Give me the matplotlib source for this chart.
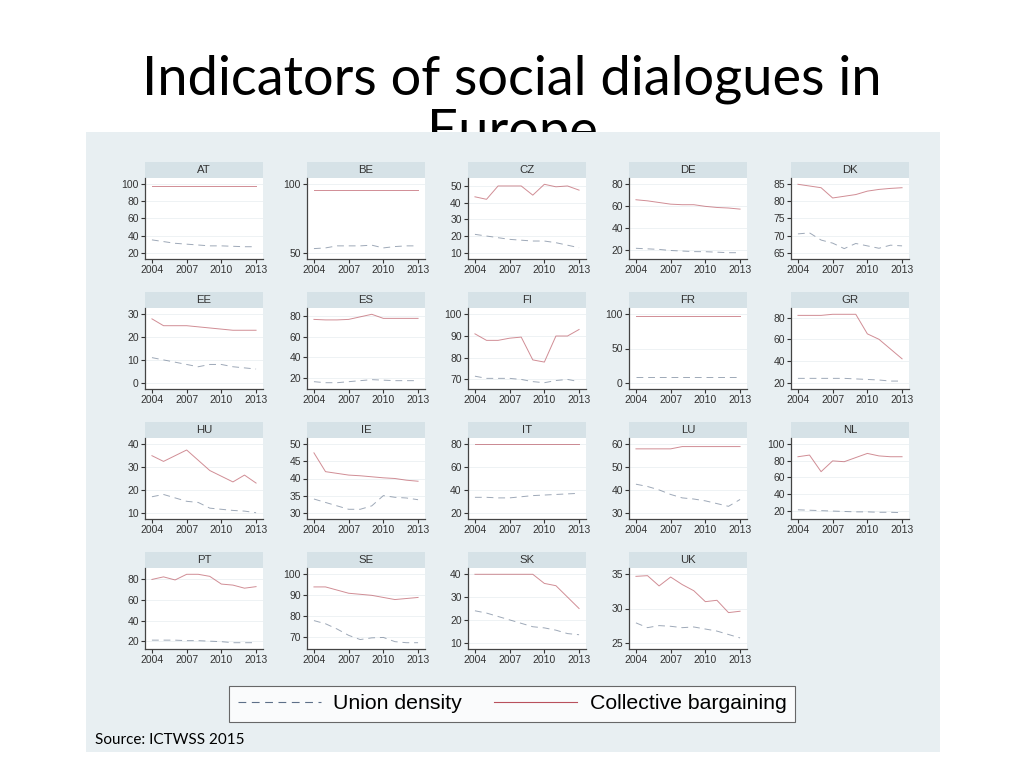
import matplotlib.pyplot as plt
from matplotlib.patches import Rectangle
from matplotlib.lines import Line2D

years = list(range(2004, 2014))

countries = ["AT", "BE", "CZ", "DE", "DK",
             "EE", "ES", "FI", "FR", "GR",
             "HU", "IE", "IT", "LU", "NL",
             "PT", "SE", "SK", "UK"]

# collective bargaining coverage (%)
cb_at = [98, 98, 98, 98, 98, 98, 98, 98, 98, 98]
cb_be = [96, 96, 96, 96, 96, 96, 96, 96, 96, 96]
cb_cz = [43.5, 42, 50, 50, 50, 44.5, 51, 49.5, 50, 47.5]
cb_de = [66, 65, 63.5, 62, 61.5, 61.5, 60, 59, 58.5, 57.5]
cb_dk = [85, 84.5, 84, 81, 81.5, 82, 83, 83.5, 83.8, 84]
cb_ee = [28, 25, 25, 25, 24.5, 24, 23.5, 23, 23, 23]
cb_es = [77, 76.5, 76.5, 77, 79.5, 82, 78, 78, 78, 78]
cb_fi = [91, 88, 88, 89, 89.5, 79, 78, 90, 90, 93]
cb_fr = [97.5, 97.5, 97.5, 97.5, 97.5, 97.5, 97.5, 97.5, 97.5, 97.5]
cb_gr = [82, 82, 82, 83, 83, 83, 65, 60, 51, 42]
cb_hu = [35, 32.5, 35, 37.5, 33, 28.5, 26, 23.5, 26.5, 23]
cb_ie = [47.5, 42, 41.5, 41, 40.8, 40.5, 40.2, 40, 39.5, 39.2]
cb_it = [80, 80, 80, 80, 80, 80, 80, 80, 80, 80]
cb_lu = [58, 58, 58, 58, 59, 59, 59, 59, 59, 59]
cb_nl = [85, 87, 67, 80, 79, 84, 89, 86, 85, 85]
cb_pt = [80, 82.5, 79.5, 85, 85, 83, 75.5, 74.5, 71.5, 73]
cb_se = [94, 94, 92.5, 91, 90.5, 90, 89, 88, 88.5, 89]
cb_sk = [40, 40, 40, 40, 40, 40, 36, 35, 30, 25]
cb_uk = [34.7, 34.8, 33.3, 34.6, 33.5, 32.6, 31, 31.2, 29.4, 29.6]

# union density (%)
ud_at = [35, 33, 31, 30, 29, 28, 28, 27.5, 27, 27]
ud_be = [53, 53.5, 55, 55, 55, 55.5, 53.5, 54.5, 55, 55]
ud_cz = [21, 20, 19, 18, 17.5, 17, 17, 16, 14.5, 13]
ud_de = [22, 21.5, 21, 20, 19.5, 19, 18.9, 18.5, 18, 18]
ud_dk = [70.5, 70.8, 68.7, 67.8, 66.2, 67.7, 67, 66.3, 67.2, 67]
ud_ee = [11, 10, 9, 8, 7, 8, 8, 7, 6.5, 6]
ud_es = [16, 15, 15, 16, 17, 18, 17.5, 17, 17, 17]
ud_fi = [71.5, 70.5, 70.5, 70.5, 70, 69, 68.5, 69.5, 70, 69]
ud_fr = [8, 8, 8, 8, 8, 8, 8, 8, 8, 8]
ud_gr = [24, 24, 24, 24, 24, 23.5, 23, 22.5, 21.5, 21.5]
ud_hu = [17, 18, 16.5, 15, 14.5, 12, 11.5, 11, 10.7, 10]
ud_ie = [34, 33, 32, 31, 31, 32, 35, 34.5, 34.3, 33.8]
ud_it = [33.5, 33.5, 33, 33, 34, 35, 35.5, 36, 36.5, 37]
ud_lu = [42.5, 41.5, 40, 38, 36.5, 36, 35.2, 34, 32.8, 35.8]
ud_nl = [21, 20.5, 20, 19.5, 19, 18.5, 18.5, 18, 18, 17.5]
ud_pt = [21, 21, 21, 20.5, 20.5, 20, 19.5, 18.5, 18.5, 18.5]
ud_se = [78, 76.5, 74, 71, 69, 69.8, 70, 68, 67.5, 67.5]
ud_sk = [24, 23, 21.5, 20, 18.5, 17, 16.5, 15.5, 14, 13.5]
ud_uk = [27.9, 27.2, 27.5, 27.4, 27.2, 27.3, 27, 26.7, 26.2, 25.7]

# y ticks shown in each panel
yt_at = [20, 40, 60, 80, 100]
yt_be = [50, 100]
yt_cz = [10, 20, 30, 40, 50]
yt_de = [20, 40, 60, 80]
yt_dk = [65, 70, 75, 80, 85]
yt_ee = [0, 10, 20, 30]
yt_es = [20, 40, 60, 80]
yt_fi = [70, 80, 90, 100]
yt_fr = [0, 50, 100]
yt_gr = [20, 40, 60, 80]
yt_hu = [10, 20, 30, 40]
yt_ie = [30, 35, 40, 45, 50]
yt_it = [20, 40, 60, 80]
yt_lu = [30, 40, 50, 60]
yt_nl = [20, 40, 60, 80, 100]
yt_pt = [20, 40, 60, 80]
yt_se = [70, 80, 90, 100]
yt_sk = [10, 20, 30, 40]
yt_uk = [25, 30, 35]

xticks = [2004, 2007, 2010, 2013]

cb_all = [cb_at, cb_be, cb_cz, cb_de, cb_dk, cb_ee, cb_es, cb_fi, cb_fr, cb_gr,
          cb_hu, cb_ie, cb_it, cb_lu, cb_nl, cb_pt, cb_se, cb_sk, cb_uk]
ud_all = [ud_at, ud_be, ud_cz, ud_de, ud_dk, ud_ee, ud_es, ud_fi, ud_fr, ud_gr,
          ud_hu, ud_ie, ud_it, ud_lu, ud_nl, ud_pt, ud_se, ud_sk, ud_uk]
yt_all = [yt_at, yt_be, yt_cz, yt_de, yt_dk, yt_ee, yt_es, yt_fi, yt_fr, yt_gr,
          yt_hu, yt_ie, yt_it, yt_lu, yt_nl, yt_pt, yt_se, yt_sk, yt_uk]

CB_COL = "#b8505c"
UD_COL = "#5d6f88"
PANEL_BG = "#e8eff2"
STRIP_BG = "#d6e2e7"
TXT = "#333333"

W, H = 1024, 768
fig = plt.figure(figsize=(10.24, 7.68), dpi=100)
fig.patch.set_facecolor("white")

# slide title (partly hidden behind the graph panel, as in the slide)
fig.text(0.5, 1 - 54 / H, "Indicators of social dialogues in\nEurope",
         ha="center", va="top", fontsize=39, family="Lato",
         linespacing=1.12, color="black", zorder=1)

# graph panel
fig.patches.append(Rectangle((86 / W, 1 - 752 / H), (940 - 86) / W, (752 - 132) / H,
                             transform=fig.transFigure, facecolor=PANEL_BG,
                             edgecolor="none", zorder=2))

col_x = [145, 307, 468, 629, 791]
row_top = [178, 308, 438, 568]
aw, ah, strip_h = 118, 81, 16

for i, code in enumerate(countries):
    r, c = divmod(i, 5)
    ax = fig.add_axes([col_x[c] / W, 1 - (row_top[r] + ah) / H, aw / W, ah / H])
    ax.set_zorder(3)
    ax.set_facecolor("white")

    ud, cb, yt = ud_all[i], cb_all[i], yt_all[i]
    lo = min(min(ud), min(cb), min(yt))
    hi = max(max(ud), max(cb), max(yt))
    pad = (hi - lo) * 0.092

    for t in yt:
        ax.axhline(t, color="#eef2f4", lw=0.7, zorder=0)

    ax.plot(years, ud, color=UD_COL, lw=0.7, dashes=(7, 5), alpha=0.6)
    ax.plot(years, cb, color=CB_COL, lw=0.7, alpha=0.65)

    ax.set_xlim(2003.4, 2013.6)
    ax.set_ylim(lo - pad, hi + pad)
    ax.set_xticks(xticks)
    ax.set_yticks(yt)
    ax.tick_params(labelsize=7.5, colors=TXT, length=3, width=0.8, pad=1.5,
                   labelfontfamily="Liberation Sans")
    for s in ["top", "right"]:
        ax.spines[s].set_visible(False)
    for s in ["left", "bottom"]:
        ax.spines[s].set_color("#444444")
        ax.spines[s].set_linewidth(0.9)

    # strip header
    ax.add_patch(Rectangle((0, 1), 1, strip_h / ah, transform=ax.transAxes,
                           facecolor=STRIP_BG, edgecolor="none", clip_on=False))
    ax.text(0.5, 1 + strip_h / ah / 2, code, transform=ax.transAxes,
            ha="center", va="center", fontsize=8.2, color=TXT,
            family="Liberation Sans")

handles = [Line2D([], [], color=UD_COL, lw=0.8, dashes=(7, 5)),
           Line2D([], [], color=CB_COL, lw=0.8)]
leg = fig.legend(handles, ["Union density", "Collective bargaining"],
                 loc="center", bbox_to_anchor=(512 / W, 1 - 703.5 / H), ncol=2,
                 prop={"family": "Liberation Sans", "size": 15.3},
                 frameon=True, fancybox=False, edgecolor="#444444",
                 handlelength=3.9, handletextpad=0.6, columnspacing=1.5,
                 borderpad=0.4)
leg.get_frame().set_linewidth(0.8)
leg.set_zorder(4)

fig.text(95 / W, 1 - 740 / H, "Source: ICTWSS 2015", ha="left", va="center",
         fontsize=11, family="Lato", color="black", zorder=4)

fig.savefig("out.png", dpi=100)
